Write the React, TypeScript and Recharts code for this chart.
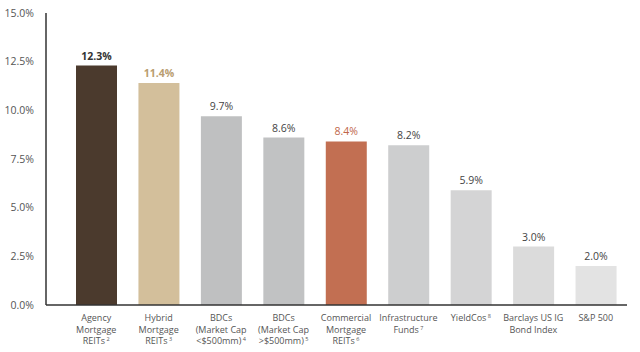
import { Bar, BarChart, Cell, LabelList, XAxis, YAxis } from 'recharts';

const categories = [
  ['Agency', 'Mortgage', 'REITs|2'],
  ['Hybrid', 'Mortgage', 'REITs|3'],
  ['BDCs', '(Market Cap', '<$500mm)|4'],
  ['BDCs', '(Market Cap', '>$500mm)|5'],
  ['Commercial', 'Mortgage', 'REITs|6'],
  ['Infrastructure', 'Funds|7'],
  ['YieldCos|8'],
  ['Barclays US IG', 'Bond Index'],
  ['S&P 500']
];
const yields = [12.3, 11.4, 9.7, 8.6, 8.4, 8.2, 5.9, 3.0, 2.0];
const barColors = ['#4b3a2d', '#d3bf9b', '#bfc0c1', '#c1c2c3', '#c26f52', '#cdcecf', '#d4d4d5', '#dbdbdb', '#e3e3e3'];
const labelColors = ['#333333', '#b99d70', '#444444', '#444444', '#c0664a', '#444444', '#444444', '#444444', '#444444'];
const labelWeights = ['bold', 'bold', 'normal', 'normal', 'normal', 'normal', 'normal', 'normal', 'normal'];
const yTicks = [0, 2.5, 5, 7.5, 10, 12.5, 15];

const data = categories.map((lines, i) => ({ key: String(i), value: yields[i] }));

const font = '"Open Sans", sans-serif';

const CategoryTick = (props: any) => {
  const { x, y, payload } = props;
  const lines = categories[Number(payload.value)];
  return (
    <g transform={`translate(${x},${y})`}>
      {lines.map((line, i) => {
        const [text, note] = line.split('|');
        return (
          <text key={i} x={0} y={8 + i * 11.5} textAnchor="middle" fontSize={9} fill="#555" fontFamily={font}>
            {text}
            {note && (
              <tspan fontSize={5.5} dy={-3}>
                {' ' + note}
              </tspan>
            )}
          </text>
        );
      })}
    </g>
  );
};

const ValueLabel = (props: any) => {
  const { x, y, width, index, value } = props;
  return (
    <text
      x={x + width / 2}
      y={y - 6}
      textAnchor="middle"
      fontSize={10.5}
      fontFamily={font}
      fontWeight={labelWeights[index]}
      fill={labelColors[index]}
    >
      {value.toFixed(1)}%
    </text>
  );
};

const App = () => (
  <div style={{ position: 'absolute', left: 0, top: 0, background: '#fff' }}>
    <BarChart width={640} height={352} data={data} margin={{ top: 13, right: 13, left: 0, bottom: 7 }} barSize={41}>
      <XAxis
        dataKey="key"
        height={40}
        tick={<CategoryTick />}
        tickLine={false}
        axisLine={{ stroke: '#333', strokeWidth: 1.5 }}
        padding={{ left: 19, right: 0 }}
        interval={0}
      />
      <YAxis
        width={46}
        domain={[0, 15]}
        ticks={yTicks}
        tickFormatter={(v: number) => `${v.toFixed(1)}%`}
        tick={{ fontSize: 10.5, fill: '#555', fontFamily: font }}
        tickLine={false}
        tickMargin={6}
        axisLine={{ stroke: '#333', strokeWidth: 1.5 }}
      />
      <Bar dataKey="value" isAnimationActive={false}>
        {data.map((d, i) => (
          <Cell key={d.key} fill={barColors[i]} />
        ))}
        <LabelList dataKey="value" content={<ValueLabel />} />
      </Bar>
    </BarChart>
  </div>
);

export default App;
